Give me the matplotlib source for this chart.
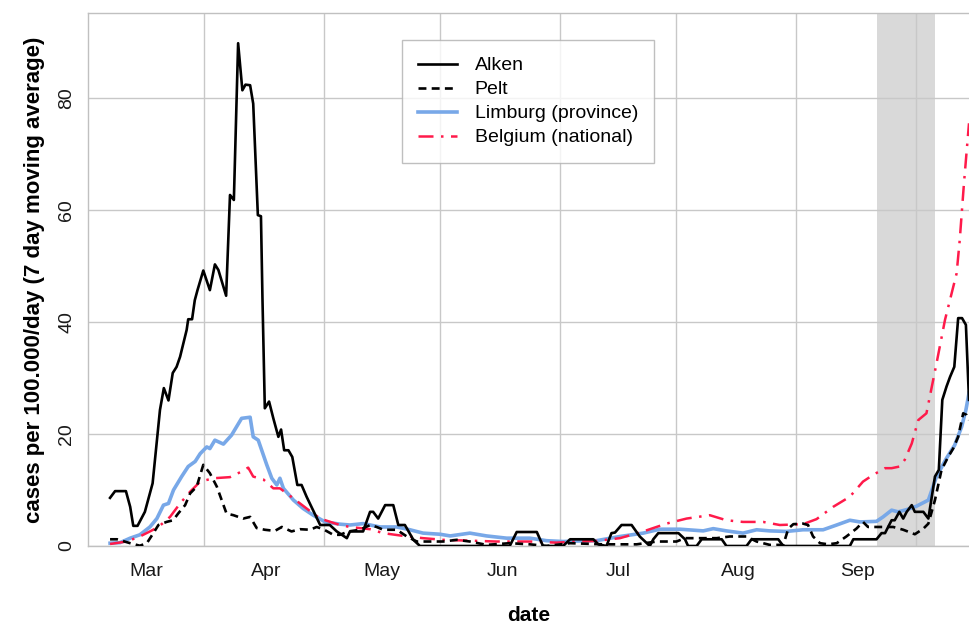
import numpy as np
import pandas as pd
import matplotlib
matplotlib.use('Agg')
import matplotlib.pyplot as plt
import matplotlib.dates as mdates

plt.rcParams['font.family'] = ['Liberation Sans', 'DejaVu Sans']

# all x values below are days counted from 2020-03-01
start = pd.Timestamp('2020-03-01')

alken_day = [-9.3, -8, -5.2, -4.1, -3.3, -2.2, -0.3, 1.7, 3.6, 4.6, 5.8, 6.9, 7.9, 8.8,
             10.5, 10.9, 11.9, 12.6, 13.3, 14.8, 16.5, 17.8, 18.7, 20.7, 21.7, 22.7,
             23.8, 24.9, 25.7, 26.9, 27.7, 28.9, 29.7, 30.1, 30.7, 31.8, 32.9, 34.2,
             34.9, 35.7, 36.8, 37.8, 39.1, 40.2, 41.5, 45, 47.5, 49.3, 51.9, 52.7,
             56.1, 57.9, 58.7, 60, 61.8, 63.9, 65.2, 66.9, 69.1, 70.8, 94, 95.8, 101,
             102.6, 107.8, 109.6, 115.6, 116.9, 119, 120.3, 121.2, 122.9, 125.5,
             127.6, 130.2, 131.1, 132.4, 137.6, 139.3, 140.1, 142.3, 143.6, 148.8,
             150, 155.2, 156.5, 163.4, 164.7, 181.9, 182.8, 188.8, 190.1, 191, 191.8,
             192.7, 193.5, 194.7, 195.7, 196.6, 197.9, 198.7, 200.9, 202.2, 203.9,
             204.9, 205.8, 206.9, 207.8, 208.9, 209.9, 210.9, 211.9, 212.7]
alken_val = [8.6, 9.8, 9.8, 7.0, 3.6, 3.6, 6.1, 11.2, 24.3, 28.2, 26.0, 30.9, 32.0, 33.8,
             38.6, 40.5, 40.5, 43.9, 45.7, 49.2, 45.7, 50.3, 49.3, 44.7, 62.7, 61.8,
             89.8, 81.4, 82.4, 82.3, 79.0, 59.1, 58.9, 43.9, 24.6, 25.8, 22.8, 19.5,
             20.8, 17.1, 17.1, 15.9, 10.9, 10.9, 8.8, 3.75, 3.75, 2.6, 1.4, 2.6,
             2.6, 6.1, 6.1, 4.9, 7.3, 7.3, 3.75, 3.75, 1.1, 0, 0, 2.5, 2.5,
             0, 0, 1.2, 1.2, 0.3, 0, 2.3, 2.4, 3.75, 3.75,
             1.7, 0, 1.2, 2.3, 2.3, 1.2, 0, 0, 1.2, 1.2,
             0, 0, 1.2, 1.2, 0, 0, 1.2, 1.2, 2.3, 2.3, 3.4,
             4.6, 4.6, 6.1, 4.9, 6.1, 7.3, 6.1, 6.1, 4.9, 12.4,
             13.6, 26.1, 28.5, 30.2, 32.0, 40.7, 40.7, 39.5, 26.1]

pelt_day = [-9.3, -7.5, -4.1, -1.6, 0.2, 1.9, 3.2, 5.3, 7, 8.3, 10.1, 11.4, 13.1, 14,
            14.8, 16.5, 18.3, 20.8, 22.6, 25.1, 26.9, 28.6, 30.7, 33.3, 35.1, 37.6,
            39.8, 42.4, 44.1, 45.8, 48.4, 50.1, 52.3, 55.3, 57.9, 59.6, 61.3, 64.8,
            67.4, 70, 73.4, 76.8, 80.3, 83.7, 88, 94, 99.2, 103.5, 109.6, 118.1,
            126.8, 132, 137.1, 139.3, 143.2, 147.5, 150.9, 155.2, 157.8, 161.2,
            164.7, 166, 167.3, 169.8, 171.1, 172.4, 174.2, 176.3, 178.5, 181, 183.6,
            185.3, 186.6, 188.8, 193.1, 195.7, 198.7, 200.9, 202.2, 203.9, 205.6,
            207.3, 208.6, 209.9, 211.2, 212.1, 212.7]
pelt_val = [1.2, 1.2, 0.5, 0.05, 0.5, 2.3, 3.75, 4.3, 4.6, 5.8, 7.3, 9.4, 10.6, 12.7,
            14.5, 13.0, 10.6, 5.8, 5.5, 4.9, 5.2, 3.2, 2.9, 2.7, 3.4, 2.6,
            3.0, 2.9, 3.4, 3.0, 2.0, 2.0, 2.6, 2.9, 3.75, 3.4, 2.9, 2.9,
            1.7, 0.8, 0.8, 0.8, 1.1, 0.8, 0.2, 0.5, 0.3, 0, 0.5, 0.3,
            0.3, 0.8, 0.8, 1.4, 1.4, 1.4, 1.7, 1.7, 0.8, 0.2,
            0.2, 3.1, 3.9, 4.0, 3.75, 1.7, 0.5, 0.3, 0.5, 1.7, 3.1,
            4.3, 3.4, 3.4, 3.4, 2.9, 2.1, 3.1, 4.0, 8.2, 13.6,
            15.9, 17.4, 19.5, 23.7, 23.4, 22.5]

limburg_day = [-9.3, -6.7, -4.1, -1.6, 1, 2.8, 4.5, 5.8, 7.1, 9.2, 10.9, 12.7, 14, 15.7,
               16.5, 17.8, 20, 22.1, 24.7, 26.9, 27.7, 29, 31.2, 32.5, 33.8, 34.6,
               35.5, 38.1, 40.6, 43.2, 46.3, 50.1, 52.7, 56.1, 60.5, 64.8, 68.2, 71.6,
               76, 78.6, 83.7, 88, 93.2, 99.2, 103.5, 107.8, 112, 116.4, 122.5, 128.5,
               132.8, 138, 144, 146.6, 150, 154.3, 157.8, 161.2, 165.5, 169.8, 175,
               178.5, 181.9, 184.5, 188.8, 190.5, 192.7, 194.4, 196.6, 199.1, 202.2,
               204.3, 206.9, 209, 210.8, 211.9, 212.7]
limburg_val = [0.5, 0.6, 1.4, 2.0, 3.4, 4.9, 7.3, 7.6, 10.0, 12.4, 14.2, 15.1, 16.5, 17.7,
               17.4, 18.9, 18.2, 19.8, 22.8, 23.0, 19.5, 18.9, 14.5, 12.1, 10.9, 12.1,
               10.3, 8.2, 6.7, 5.5, 4.3, 3.9, 3.75, 4.0, 3.4, 3.4, 2.9, 2.3,
               2.1, 1.8, 2.3, 1.8, 1.4, 1.4, 0.95, 0.8, 0.9, 0.95, 1.7, 2.3,
               3.0, 3.0, 2.7, 3.1, 2.7, 2.3, 2.9, 2.7, 2.6, 2.9, 2.9,
               3.75, 4.6, 4.3, 4.4, 5.2, 6.4, 6.1, 6.5, 7.1, 8.2,
               12.4, 15.7, 18.0, 21.3, 24.3, 27.3]

belgium_day = [-9.3, -5, -1.6, 1, 3.2, 6.2, 8.8, 11.4, 14, 17.4, 21.7, 24.7, 26.4, 27.7,
               30.3, 32.9, 34.6, 38.1, 41.5, 45, 50.1, 52.7, 57.9, 61.3, 66.5, 71.6,
               76.8, 83.7, 90.6, 99.2, 106.1, 111.3, 116.4, 122.5, 128.5, 134.5,
               139.7, 145.7, 150, 154.3, 159.5, 163.8, 169.8, 173.3, 177.6, 181.9,
               185.3, 187.9, 191, 192.7, 194.8, 196.1, 197.9, 199.6, 201.7, 204.3,
               206.5, 208.2, 209.5, 210.3, 211.4, 212.7]
belgium_val = [0.36, 0.8, 1.7, 2.6, 3.4, 5.2, 7.6, 9.7, 11.5, 12.1, 12.3, 13.3, 14.0, 12.4,
               11.9, 10.3, 10.3, 8.5, 6.7, 4.9, 3.75, 3.4, 3.0, 2.3, 1.8, 1.4,
               1.1, 0.95, 0.8, 0.8, 0.6, 0.8, 0.9, 1.4, 2.6, 4.0,
               4.9, 5.5, 4.6, 4.3, 4.3, 3.75, 3.9, 4.8, 7.0, 8.8,
               11.5, 12.7, 13.9, 13.9, 14.2, 15.4, 18.3, 22.5, 23.7, 32.6,
               40.4, 45.1, 48.7, 54.6, 64.8, 75.5]

shade_days = (188.9, 203.9)


def to_dates(days):
    return start + pd.to_timedelta(np.array(days), unit='D')


fig = plt.figure(figsize=(9.69, 6.24), dpi=100)
ax = fig.add_axes([88/969, 78/624, 1 - 88/969, 533/624])

ax.axvspan(to_dates([shade_days[0]])[0], to_dates([shade_days[1]])[0],
           color='#d9d9d9', lw=0, zorder=0)

ax.plot(to_dates(alken_day), alken_val, color='black', lw=1.9, label='Alken', zorder=3)
ax.plot(to_dates(pelt_day), pelt_val, color='black', lw=1.9, ls=(0, (3, 2)),
        label='Pelt', zorder=3)
ax.plot(to_dates(limburg_day), limburg_val, color='#78a8e8', lw=2.6,
        label='Limburg (province)', zorder=2)
ax.plot(to_dates(belgium_day), belgium_val, color='#ff1a4a', lw=1.8,
        ls=(0, (6, 3, 1, 3)), label='Belgium (national)', zorder=2)

ax.set_xlim(to_dates([-15])[0], to_dates([212.7])[0])
ax.set_ylim(0, 95.2)

ax.xaxis.set_major_locator(mdates.MonthLocator())
ax.xaxis.set_major_formatter(mdates.DateFormatter('%b'))
# vertical grid lines sit mid-month, March to September
ax.set_xticks([pd.Timestamp(2020, m, 16) for m in range(3, 10)], minor=True)
ax.set_yticks([0, 20, 40, 60, 80])
for lab in ax.get_yticklabels():
    lab.set_rotation(90)
    lab.set_va('center')
ax.tick_params(which='both', length=0, labelsize=14, colors='#1a1a1a')
ax.tick_params(axis='x', pad=12)
ax.tick_params(axis='y', pad=9)

ax.set_axisbelow(True)
ax.grid(which='minor', axis='x', color='#c8c8c8', lw=1)
ax.grid(which='major', axis='y', color='#c8c8c8', lw=1)

for side in ['top', 'left', 'bottom']:
    ax.spines[side].set_color('#c0c0c0')
    ax.spines[side].set_linewidth(1)
ax.spines['right'].set_visible(False)

ax.set_xlabel('date', fontsize=15, fontweight='bold', labelpad=19)
ax.set_ylabel('cases per 100.000/day (7 day moving average)', fontsize=16,
              fontweight='bold', labelpad=10)

leg = ax.legend(loc='upper left', bbox_to_anchor=(0.356, 0.949), borderaxespad=0,
                fancybox=False, edgecolor='#b0b0b0', fontsize=14, handlelength=2.0,
                handletextpad=0.9, labelspacing=0.33, borderpad=0.85)
leg.get_frame().set_linewidth(1)

fig.savefig('out.png', dpi=100)
